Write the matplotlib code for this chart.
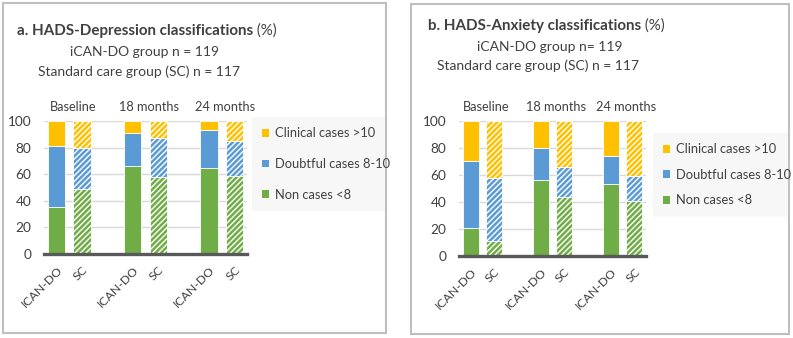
import matplotlib
matplotlib.use('Agg')
import matplotlib.pyplot as plt
from matplotlib.patches import Patch, Rectangle

plt.rcParams['font.family'] = ['Lato', 'DejaVu Sans']
plt.rcParams['hatch.linewidth'] = 1.0

# ---------------- data ----------------
groups = ['Baseline', '18 months', '24 months']
arms = ['ICAN-DO', 'SC']
series_names = ['Clinical cases >10', 'Doubtful cases 8-10', 'Non cases <8']

# bar order: Baseline ICAN-DO, Baseline SC, 18m ICAN-DO, 18m SC, 24m ICAN-DO, 24m SC
dep_non = [35, 49, 66, 58, 65, 59]
dep_doubtful = [46, 31, 25, 29, 28, 26]
dep_clinical = [19, 20, 9, 13, 7, 15]

anx_non = [21, 11, 56, 44, 53, 41]
anx_doubtful = [49, 47, 24, 22, 21, 18]
anx_clinical = [30, 42, 20, 34, 26, 41]

y_ticks = [0, 20, 40, 60, 80, 100]

# ---------------- style ----------------
C_GREEN = '#70AD47'
C_BLUE = '#5B9BD5'
C_YELLOW = '#FFC000'
TXT = '#404040'

W, H = 793, 338
fig = plt.figure(figsize=(W / 100, H / 100), dpi=100)


def fx(x):
    return x / W


def fy(y):
    return 1 - y / H


# panel borders
for (x0, y0, x1, y1) in [(3, 3, 386, 333), (411, 4, 789, 334)]:
    fig.patches.append(Rectangle((fx(x0), fy(y1)), fx(x1 - x0), (y1 - y0) / H,
                                 transform=fig.transFigure, fill=False,
                                 edgecolor='#BFBFBF', linewidth=1.5))


def panel(ax_px, non, doubtful, clinical, title_bold, line2, line3, tpos,
          legend_box, lspacing):
    x0, x1, ytop, ybot = ax_px
    ax = fig.add_axes([fx(x0), fy(ybot), fx(x1 - x0), (ybot - ytop) / H])
    positions = []
    labels = []
    for g in range(len(groups)):
        for k in range(len(arms)):
            positions.append(g * 3 + k)
            labels.append(arms[k])
    bw = 0.68
    for i, p in enumerate(positions):
        hatch = '//////' if arms[i % 2] == 'SC' else None
        b = 0
        for val, col in [(non[i], C_GREEN), (doubtful[i], C_BLUE), (clinical[i], C_YELLOW)]:
            ax.bar(p, val, bottom=b, width=bw, color=col, edgecolor='white',
                   linewidth=0.6, hatch=hatch, zorder=3)
            b += val
    ax.set_xlim(-0.5, 7.5)
    ax.set_ylim(0, 100)
    ax.set_yticks(y_ticks)
    ax.set_yticklabels([str(v) for v in y_ticks], fontsize=9.8, color=TXT)
    ax.yaxis.grid(True, color='#D9D9D9', linewidth=1, zorder=0)
    ax.set_axisbelow(True)
    ax.set_xticks(positions)
    ax.set_xticklabels(labels, rotation=45, ha='right', va='top',
                       rotation_mode='anchor', fontsize=8.8, color=TXT)
    ax.tick_params(axis='both', length=0)
    ax.tick_params(axis='y', pad=9)
    ax.tick_params(axis='x', pad=7)
    for s in ['top', 'right', 'left']:
        ax.spines[s].set_visible(False)
    ax.spines['bottom'].set_color('#595959')
    ax.spines['bottom'].set_linewidth(2.4)
    ax.spines['bottom'].set_zorder(4)
    # group labels
    for g, name in enumerate(groups):
        ax.annotate(name, xy=(g * 3 + 0.65, 100), xycoords='data',
                    xytext=(0, 7), textcoords='offset points',
                    ha='center', va='baseline', fontsize=9.2, color=TXT)
    # titles
    (tx, ty), (l2x, l2y), (l3x, l3y) = tpos
    t = fig.text(fx(tx), fy(ty), title_bold, fontsize=10.9, fontweight='bold',
                 color=TXT, ha='left', va='baseline')
    ax.annotate(' (%)', xy=(1, 0), xycoords=t, ha='left', va='bottom',
                fontsize=10.9, color=TXT, annotation_clip=False)
    fig.text(fx(l2x), fy(l2y), line2, fontsize=10, color=TXT, ha='left', va='baseline')
    fig.text(fx(l3x), fy(l3y), line3, fontsize=10, color=TXT, ha='left', va='baseline')
    # legend
    handles = [Patch(facecolor=C_YELLOW), Patch(facecolor=C_BLUE), Patch(facecolor=C_GREEN)]
    lx0, ly0, lx1, ly1 = legend_box
    leg = fig.legend(handles, series_names, loc='upper left',
                     bbox_to_anchor=(fx(lx0), fy(ly1), fx(lx1 - lx0), (ly1 - ly0) / H),
                     mode='expand', frameon=True, fancybox=False,
                     facecolor='#F7F7F7', edgecolor='none', framealpha=1,
                     fontsize=9.3, handlelength=0.55, handleheight=0.55,
                     handletextpad=0.4, labelspacing=lspacing, borderaxespad=0,
                     borderpad=0.8)
    for txt in leg.get_texts():
        txt.set_color(TXT)
    return ax


panel((44, 247, 121, 254), dep_non, dep_doubtful, dep_clinical,
      'a. HADS-Depression classifications', 'iCAN-DO group n = 119',
      'Standard care group (SC) n = 117',
      ((17, 35), (70, 56), (38, 76)), (252, 117, 385, 205), 1.45)

panel((459, 646, 121, 256), anx_non, anx_doubtful, anx_clinical,
      'b. HADS-Anxiety classifications', 'iCAN-DO group n= 119',
      'Standard care group (SC) n = 117',
      ((428, 30), (477, 51), (437, 70)), (653, 133, 788, 213), 1.05)

fig.savefig('out.png', dpi=100)
